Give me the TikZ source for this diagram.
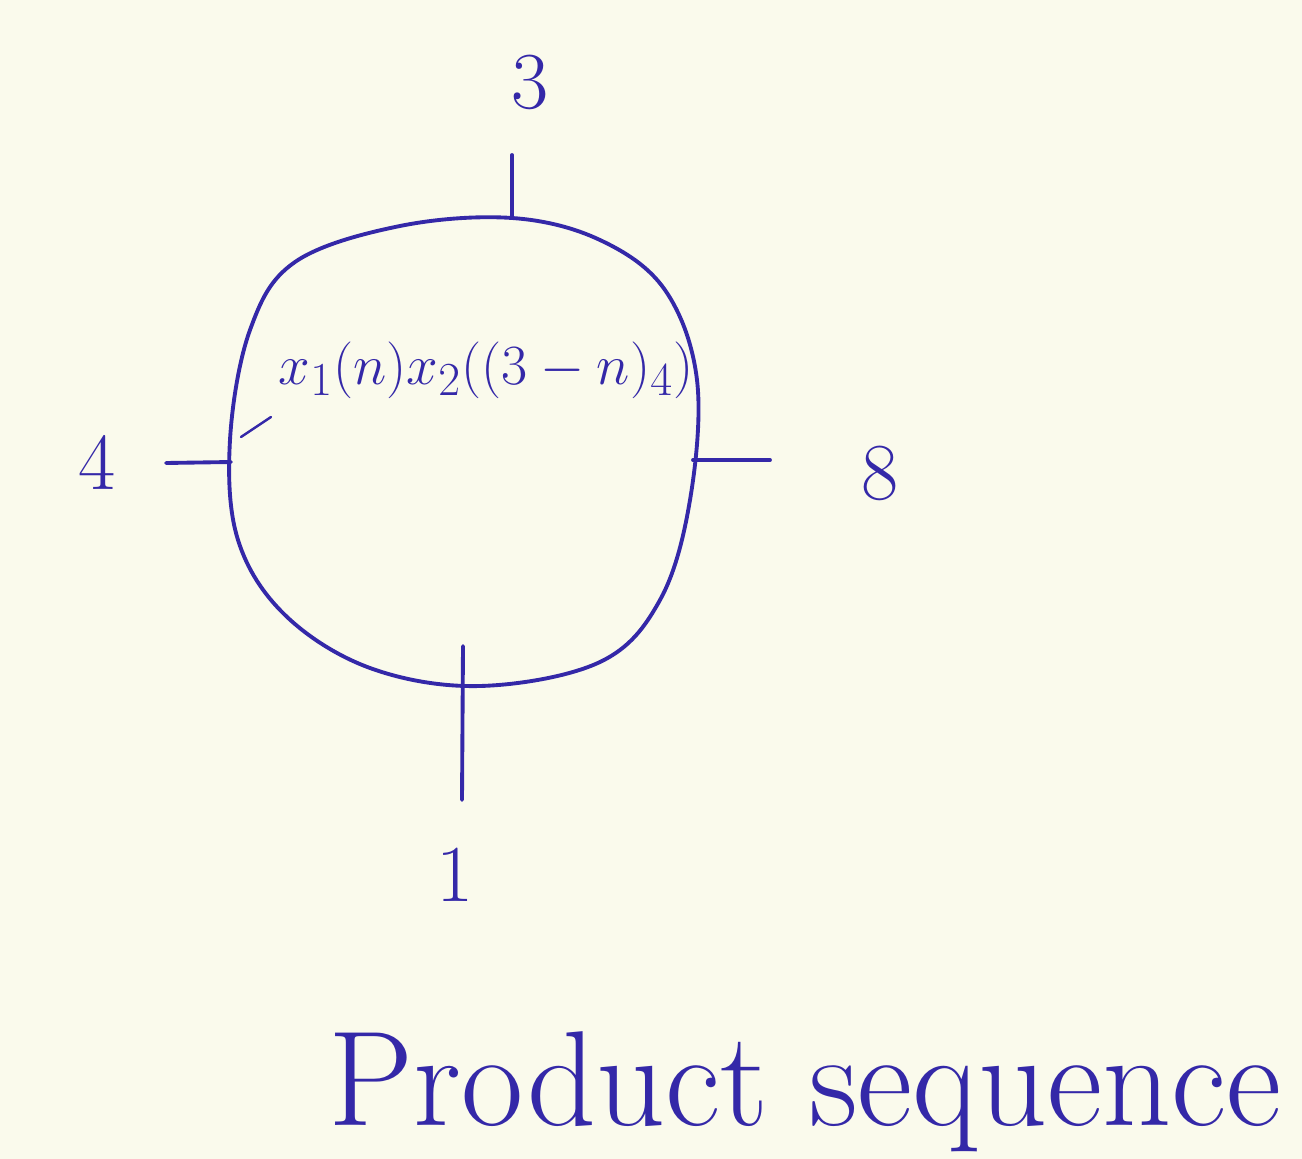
\documentclass[tikz,border=0pt]{standalone}
\usepackage{tikz}
\definecolor{paper}{RGB}{250,250,236}
\definecolor{ink}{RGB}{52,40,168}
\begin{document}
\begin{tikzpicture}[x=0.02cm,y=-0.02cm,
  inkline/.style={draw=ink,line width=2.2pt,line cap=round,line join=round},
  lbl/.style={text=ink,inner sep=0pt,font=\fontsize{46}{50}\selectfont},
  caption/.style={text=ink,inner sep=0pt,font=\fontsize{77}{80}\selectfont}]
\fill[paper] (0,0) rectangle (1302,1159);
\useasboundingbox (0,0) rectangle (1302,1159);
% blob
\draw[inkline] plot[smooth cycle,tension=0.6] coordinates {
 (512,218) (600,240) (665,290) (697,380) (690,500) (660,600) (600,662)
 (480,686) (370,668) (285,615) (238,540) (230,440) (250,330) (295,262) (400,226)};
% contact points on blob
\coordinate (ctop) at (512,216);
\coordinate (cleft) at (231,462);
\coordinate (cright) at (693,460);
\coordinate (cbot) at (463,646);
\coordinate (etop) at (512,155);
\coordinate (eleft) at (166,463);
\coordinate (eright) at (770,460);
\coordinate (ebot) at (462,800);
\draw[inkline] (ctop) -- (etop);
\draw[inkline] (cleft) -- (eleft);
\draw[inkline] (cright) -- (eright);
\draw[inkline] (cbot) -- (ebot);
\draw[inkline,line width=1.4pt] (cleft) ++(10,-25) coordinate (sk) -- ++(30,-20);
% labels
\node[lbl] (l3) at (530,82) {3};
\node[lbl] (l4) at (97,462) {4};
\node[lbl] (l8) at (880,473) {8};
\node[lbl] (l1) at (455,875) {1};
\node[text=ink,inner sep=0pt,font=\fontsize{24.88}{28}\selectfont,scale=1.3] (amp) at (486,370)
  {$x_1(n)x_2((3-n)_4)$};
\node[caption] (cap) at (805,1092) {Product sequence};
\end{tikzpicture}
\end{document}
